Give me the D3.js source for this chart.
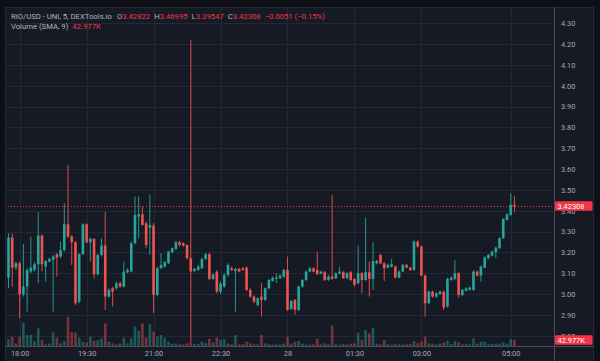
<!DOCTYPE html>
<html><head><meta charset="utf-8">
<script src="https://cdn.jsdelivr.net/npm/d3@7"></script>
<style>html,body{margin:0;padding:0;background:#0e1017;} svg{display:block;}</style>
</head><body><svg id="c" width="600" height="361"></svg>
<script>
// ---- data (5-minute candles, first one at 17:45) ----
const startClock = "17:45";
const opens = [3.079,3.271,3.127,3.148,2.999,3.036,3.108,3.116,3.143,3.281,
3.132,3.156,3.164,3.191,3.180,3.212,3.335,3.276,3.249,2.964,
3.191,3.335,3.249,3.265,3.095,3.188,3.233,2.988,3.028,3.028,
3.052,3.036,3.105,3.108,3.244,3.372,3.383,3.340,3.319,3.329,
2.996,3.124,3.132,3.148,3.201,3.217,3.249,3.244,3.236,3.172,
3.111,3.116,3.124,3.169,3.191,3.073,3.108,3.012,3.036,3.092,
3.124,3.111,3.121,3.124,3.127,3.020,2.988,2.948,2.988,2.972,
3.028,3.063,3.073,3.076,3.084,3.116,2.929,2.972,2.924,3.036,
3.068,3.108,3.124,3.116,3.098,3.105,3.068,3.084,3.076,3.098,
3.105,3.076,3.105,3.073,3.052,3.100,3.068,3.105,3.073,3.148,
3.188,3.148,3.127,3.132,3.132,3.079,3.108,3.140,3.127,3.116,
3.252,3.228,3.089,2.956,3.012,2.988,2.999,3.012,2.940,3.068,
3.073,3.100,2.996,3.015,3.020,3.020,3.108,3.089,3.127,3.172,
3.185,3.201,3.220,3.268,3.356,3.380,3.42822];
const highs = [3.292,3.292,3.156,3.156,3.239,3.124,3.276,3.153,3.393,3.287,
3.164,3.175,3.188,3.198,3.252,3.436,3.620,3.284,3.255,3.196,
3.340,3.340,3.271,3.268,3.193,3.268,3.395,3.028,3.036,3.060,
3.060,3.156,3.124,3.252,3.468,3.468,3.420,3.348,3.479,3.340,
3.132,3.196,3.159,3.207,3.223,3.255,3.255,3.249,3.239,4.220,
3.127,3.140,3.175,3.198,3.198,3.100,3.114,3.060,3.100,3.148,
3.132,3.127,3.127,3.130,3.132,3.028,2.993,2.983,3.052,3.031,
3.073,3.084,3.100,3.095,3.121,3.180,2.972,2.977,3.041,3.073,
3.114,3.130,3.129,3.204,3.113,3.111,3.092,3.476,3.105,3.132,
3.111,3.105,3.111,3.076,3.233,3.105,3.367,3.156,3.249,3.164,
3.193,3.153,3.145,3.169,3.137,3.114,3.145,3.145,3.132,3.258,
3.258,3.233,3.095,3.017,3.017,3.009,3.017,3.017,3.079,3.084,
3.164,3.105,3.025,3.033,3.036,3.114,3.113,3.137,3.182,3.193,
3.209,3.228,3.273,3.364,3.388,3.484,3.46995];
const lows = [3.028,3.036,3.116,2.884,2.988,2.916,3.100,3.108,3.052,3.108,
3.060,3.153,2.916,3.084,3.172,3.204,3.268,3.140,2.948,2.956,
3.188,3.244,3.156,3.073,3.089,3.180,2.924,2.983,2.940,3.020,
3.031,3.031,3.100,3.105,3.239,3.268,3.329,3.220,3.188,2.908,
2.988,3.121,3.127,3.143,3.196,3.212,3.228,3.228,3.167,2.770,
3.105,3.111,3.121,3.164,3.066,3.068,3.004,3.000,3.031,3.084,
3.111,2.916,3.105,3.111,3.015,2.983,2.956,2.940,2.892,2.967,
3.023,3.060,3.052,3.073,3.079,2.919,2.924,2.900,2.919,3.031,
3.063,3.105,3.105,3.092,3.095,3.063,3.063,3.068,3.073,3.095,
3.073,3.073,3.063,3.036,3.047,3.004,3.063,2.988,3.020,3.143,
3.143,3.063,3.124,3.127,3.076,3.076,3.105,3.124,3.111,3.111,
3.223,3.084,2.892,2.951,2.983,2.983,2.996,2.924,2.935,3.063,
3.068,2.983,2.991,3.012,3.017,3.015,3.084,3.060,3.124,3.167,
3.180,3.172,3.217,3.265,3.353,3.376,3.39547];
const closes = [3.271,3.127,3.148,2.999,3.036,3.116,3.127,3.143,3.281,3.143,
3.159,3.169,3.180,3.175,3.212,3.335,3.276,3.249,2.956,3.191,
3.335,3.249,3.265,3.095,3.188,3.233,2.988,3.020,3.012,3.052,
3.036,3.108,3.116,3.244,3.380,3.383,3.332,3.236,3.332,2.996,
3.124,3.140,3.153,3.204,3.220,3.249,3.236,3.233,3.172,3.108,
3.121,3.132,3.169,3.191,3.073,3.095,3.012,3.050,3.092,3.140,
3.116,3.121,3.108,3.116,3.020,2.988,2.964,2.980,2.972,3.028,
3.068,3.079,3.079,3.089,3.116,2.924,2.967,2.924,3.036,3.068,
3.108,3.124,3.108,3.095,3.108,3.068,3.084,3.073,3.100,3.108,
3.076,3.100,3.068,3.044,3.100,3.068,3.105,3.073,3.159,3.159,
3.148,3.124,3.140,3.143,3.079,3.108,3.140,3.127,3.116,3.252,
3.228,3.089,2.956,3.012,2.988,3.004,3.012,2.935,3.073,3.079,
3.100,2.996,3.020,3.028,3.031,3.108,3.089,3.132,3.175,3.188,
3.204,3.223,3.268,3.361,3.383,3.42818,3.42308];
const volumes = [50,67,19,67,170,79,79,36,127,43,
12,19,98,60,19,36,211,98,98,60,
31,26,67,36,43,55,163,31,19,12,
17,60,19,55,139,108,163,60,156,103,
67,79,60,31,17,19,12,10,19,26,
17,14,31,22,50,26,60,43,50,19,
12,79,12,12,31,19,12,12,79,19,
12,10,12,10,17,67,17,31,36,17,
12,10,12,50,12,19,12,146,12,10,
14,12,17,19,96,43,115,91,132,17,
12,43,12,10,14,12,10,12,14,36,
20,31,67,19,17,12,17,26,36,14,
36,26,12,14,12,55,17,31,31,12,
14,17,17,26,17,50,42.977]; // thousands
const priceTicks = [2.8,2.9,3.0,3.1,3.2,3.3,3.4,3.5,3.6,3.7,3.8,3.9,4.0,4.1,4.2,4.3];
const timeTickClock = ["18:00","19:30","21:00","22:30","00:00","01:30","03:00","05:00"];
const timeTickLabels = ["18:00","19:30","21:00","22:30","28","01:30","03:00","05:00"];
const symbolTitle = "RIO/USD - UNI, 5, DEXTools.io";
const volumeTitle = "Volume (SMA, 9)";

// ---- layout ----
const W = 600, H = 361;
const paneL = 5, paneR = 554, paneT = 7, paneB = 346, outerR = 594;
const UP = "#26a69a", DOWN = "#ef5350", LABELRED = "#f23645";
const FONT = "Roboto, 'Noto Sans', sans-serif";
const AXFS = 7.4, LEGFS = 7.7;

const n = closes.length;
const x = d3.scaleLinear().domain([0, n - 1]).range([8.5, 514.4]);
const y = d3.scaleLinear().domain([2.8, 4.3]).range([335.75, 23.3]);
const yv = d3.scaleLinear().domain([0, 216]).range([paneB, paneB - 30]);

const toMin = s => { const [h, m] = s.split(":").map(Number); return h * 60 + m; };
const t0 = toMin(startClock);
const clockIndex = s => { let d = toMin(s) - t0; if (d < 0) d += 1440; return d / 5; };
const tickIdx = timeTickClock.map(clockIndex);

const svg = d3.select("#c");
svg.append("rect").attr("width", W).attr("height", H).attr("fill", "#0e1017");
svg.append("rect").attr("x", paneL + 0.5).attr("y", paneT + 0.5)
  .attr("width", outerR - paneL - 1).attr("height", H - paneT + 5)
  .attr("fill", "#161a25").attr("stroke", "#262a35");

svg.append("clipPath").attr("id", "pane").append("rect")
  .attr("x", paneL + 1).attr("y", paneT + 1).attr("width", paneR - paneL - 1).attr("height", paneB - paneT - 1);
const pane = svg.append("g").attr("clip-path", "url(#pane)");

// grid
pane.append("g").selectAll("line").data(priceTicks).join("line")
  .attr("x1", paneL).attr("x2", paneR)
  .attr("y1", d => Math.round(y(d)) + 0.5).attr("y2", d => Math.round(y(d)) + 0.5)
  .attr("stroke", "#242834").attr("stroke-width", 1);
pane.append("g").selectAll("line").data(tickIdx).join("line")
  .attr("y1", paneT).attr("y2", paneB)
  .attr("x1", d => Math.round(x(d)) + 0.5).attr("x2", d => Math.round(x(d)) + 0.5)
  .attr("stroke", "#242834").attr("stroke-width", 1);

const idx = d3.range(n);
const isUp = i => closes[i] >= opens[i];
const bw = 2.6;

// volume
pane.append("g").selectAll("rect").data(idx).join("rect")
  .attr("x", i => x(i) - bw / 2).attr("width", bw)
  .attr("y", i => yv(volumes[i])).attr("height", i => paneB - yv(volumes[i]))
  .attr("fill", i => isUp(i) ? UP : DOWN).attr("fill-opacity", 0.45);

// wicks
pane.append("g").selectAll("line").data(idx).join("line")
  .attr("x1", i => x(i)).attr("x2", i => x(i))
  .attr("y1", i => y(highs[i])).attr("y2", i => y(lows[i]))
  .attr("stroke", i => isUp(i) ? UP : DOWN).attr("stroke-width", 0.9);
// bodies
pane.append("g").selectAll("rect").data(idx).join("rect")
  .attr("x", i => x(i) - bw / 2).attr("width", bw)
  .attr("y", i => y(Math.max(opens[i], closes[i])))
  .attr("height", i => Math.max(1, Math.abs(y(opens[i]) - y(closes[i]))))
  .attr("fill", i => isUp(i) ? UP : DOWN);

// last price dotted line
const lastC = closes[n - 1];
pane.append("line").attr("x1", paneL).attr("x2", paneR)
  .attr("y1", Math.round(y(lastC)) + 0.5).attr("y2", Math.round(y(lastC)) + 0.5)
  .attr("stroke", LABELRED).attr("stroke-width", 1).attr("stroke-dasharray", "1,2");

// separators
svg.append("line").attr("x1", paneR + 0.5).attr("x2", paneR + 0.5).attr("y1", paneT).attr("y2", H)
  .attr("stroke", "#4a4e59");
svg.append("line").attr("x1", paneL).attr("x2", outerR).attr("y1", paneB + 0.5).attr("y2", paneB + 0.5)
  .attr("stroke", "#4a4e59");

// value tags (drawn first so axis labels hidden behind them are handled below)
const fmt5 = d3.format(".5f");
const tagYs = [y(lastC), yv(volumes[n - 1])];

// price axis: labels that sit under a value tag are pushed half out of view, as in the reference
const pa = svg.append("g").attr("transform", `translate(${paneR},0)`)
  .call(d3.axisRight(y).tickValues(priceTicks).tickFormat(d3.format(".2f")).tickSize(0).tickPadding(7));
pa.select(".domain").remove();
pa.selectAll("text").attr("fill", "#a6a9b2").attr("font-family", FONT).attr("font-size", AXFS);

// time axis
const ta = svg.append("g").attr("transform", `translate(0,${paneB})`)
  .call(d3.axisBottom(x).tickValues(tickIdx).tickFormat((d, i) => timeTickLabels[i]).tickSize(0).tickPadding(5));
ta.select(".domain").remove();
ta.selectAll("text").attr("fill", "#a6a9b2").attr("font-family", FONT).attr("font-size", AXFS);

function tag(yy, txt) {
  const g = svg.append("g");
  g.append("rect").attr("x", paneR + 1).attr("y", yy - 4.8).attr("width", 37.5).attr("height", 9.6)
    .attr("fill", LABELRED).attr("rx", 1);
  g.append("text").attr("x", paneR + 3.5).attr("y", yy).attr("dy", "0.35em")
    .attr("fill", "#ffffff").attr("font-family", FONT).attr("font-size", AXFS).text(txt);
}
tag(tagYs[0], fmt5(lastC));
tag(tagYs[1], d3.format(".3f")(volumes[n - 1]) + "K");

// legend
const prevC = closes[n - 2];
const chg = lastC - prevC;
const leg = svg.append("text").attr("x", 11).attr("y", 16).attr("dy", "0.35em")
  .attr("font-family", FONT).attr("font-size", LEGFS).attr("fill", "#b2b5be");
leg.append("tspan").text(symbolTitle);
[["O", opens[n - 1]], ["H", highs[n - 1]], ["L", lows[n - 1]], ["C", lastC]].forEach(([k, v], j) => {
  leg.append("tspan").attr("dx", j === 0 ? 5 : 4).attr("fill", "#b2b5be").text(k);
  leg.append("tspan").attr("fill", LABELRED).text(fmt5(v));
});
leg.append("tspan").attr("dx", 4).attr("fill", LABELRED)
  .text(d3.format(".4f")(chg) + " (" + d3.format(".2f")(chg / prevC * 100) + "%)");
const leg2 = svg.append("text").attr("x", 11).attr("y", 26).attr("dy", "0.35em")
  .attr("font-family", FONT).attr("font-size", LEGFS).attr("fill", "#b2b5be");
leg2.append("tspan").text(volumeTitle);
leg2.append("tspan").attr("dx", 4).attr("fill", LABELRED).text(d3.format(".3f")(volumes[n - 1]) + "K");
</script></body></html>
